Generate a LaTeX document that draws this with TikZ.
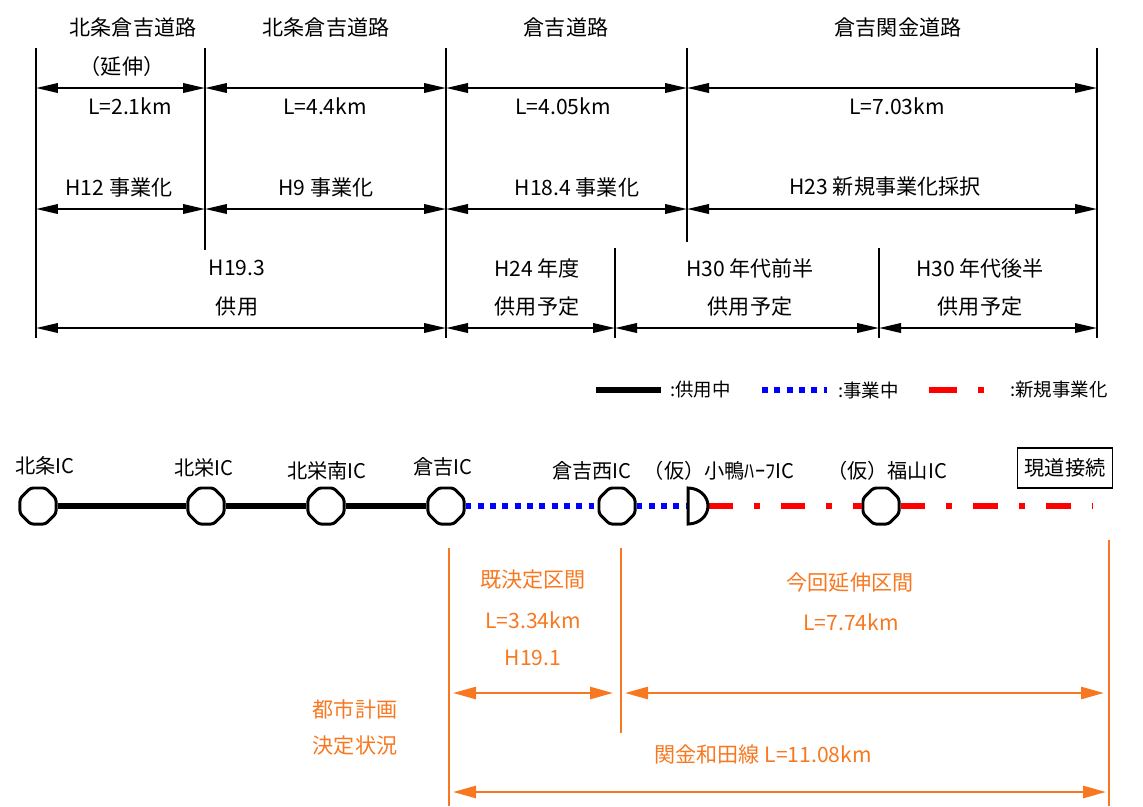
\documentclass[tikz,border=0pt]{standalone}
\usepackage{fontspec}
\newfontfamily\jp{Noto Sans CJK JP}
\usetikzlibrary{arrows.meta,shapes.geometric}
\definecolor{orn}{RGB}{247,120,32}
\tikzset{
 vline/.style={line width=0.75pt},
 dimarr/.style={line width=1.2pt,{Triangle[length=0.44cm,width=0.19cm]}-{Triangle[length=0.44cm,width=0.19cm]}},
 lbl/.style={font=\jp\fontsize{12}{14}\selectfont, inner sep=0pt},
 iclbl/.style={font=\jp\fontsize{11.5}{13}\selectfont, inner sep=0pt},
 leglbl/.style={font=\jp\fontsize{10.5}{12}\selectfont, inner sep=0pt, anchor=west},
 ic/.style={regular polygon, regular polygon sides=8, minimum size=0.78cm, draw, line width=1.7pt, fill=white, inner sep=0pt, rounded corners=1.5pt},
 inuse/.style={line width=3.4pt},
 building/.style={blue, line width=3.4pt, dash pattern=on 3.4pt off 3.6pt},
 newproj/.style={red, line width=3.4pt, dash pattern=on 14pt off 12pt on 3.4pt off 12pt},
 olbl/.style={lbl, text=orn},
 oline/.style={orn, line width=0.85pt},
 oarr/.style={orn, line width=1.5pt, {Triangle[length=0.46cm,width=0.24cm]}-{Triangle[length=0.46cm,width=0.24cm]}},
}
\begin{document}
\begin{tikzpicture}[x=0.02cm,y=-0.02cm]
\useasboundingbox (0,0) rectangle (1143,806);

% ---------- top table ----------
\coordinate (v1t) at (36,48);   \coordinate (v1b) at (36,338);
\coordinate (v2t) at (205,48);  \coordinate (v2b) at (205,250);
\coordinate (v3t) at (446,48);  \coordinate (v3b) at (446,338);
\coordinate (v4t) at (687,48);  \coordinate (v4b) at (687,242);
\coordinate (v5t) at (1097,48); \coordinate (v5b) at (1097,338);
\coordinate (v6t) at (615,248); \coordinate (v6b) at (615,338);
\coordinate (v7t) at (879,248); \coordinate (v7b) at (879,338);
\foreach \v in {1,...,7} \draw[vline] (v\v t) -- (v\v b);

\coordinate (r1) at (0,88);
\coordinate (r2) at (0,209);
\coordinate (r3) at (0,328);

\draw[dimarr] (v1t |- r1) -- (v2t |- r1);
\draw[dimarr] (v2t |- r1) -- (v3t |- r1);
\draw[dimarr] (v3t |- r1) -- (v4t |- r1);
\draw[dimarr] (v4t |- r1) -- (v5t |- r1);

\draw[dimarr] (v1t |- r2) -- (v2t |- r2);
\draw[dimarr] (v2t |- r2) -- (v3t |- r2);
\draw[dimarr] (v3t |- r2) -- (v4t |- r2);
\draw[dimarr] (v4t |- r2) -- (v5t |- r2);

\draw[dimarr] (v1b |- r3) -- (v3b |- r3);
\draw[dimarr] (v3b |- r3) -- (v6b |- r3);
\draw[dimarr] (v6b |- r3) -- (v7b |- r3);
\draw[dimarr] (v7b |- r3) -- (v5b |- r3);

\node[lbl] (h1) at (133,28) {北条倉吉道路};
\node[lbl] (h2) at (326,28) {北条倉吉道路};
\node[lbl] (h3) at (566,28) {倉吉道路};
\node[lbl] (h4) at (898,28) {倉吉関金道路};
\node[lbl] (ext) at (122,66) {（延伸）};

\node[lbl] (l1) at (130,106) {L=2.1km};
\node[lbl] (l2) at (325,106) {L=4.4km};
\node[lbl] (l3) at (563,106) {L=4.05km};
\node[lbl] (l4) at (897,106) {L=7.03km};

\node[lbl] (j1) at (119,188) {H12 事業化};
\node[lbl] (j2) at (326,188) {H9 事業化};
\node[lbl] (j3) at (577,188) {H18.4 事業化};
\node[lbl] (j4) at (885,187) {H23 新規事業化採択};

\node[lbl] (k1a) at (237,268) {H19.3};
\node[lbl] (k1b) at (237,307) {供用};
\node[lbl] (k2a) at (537,268) {H24 年度};
\node[lbl] (k2b) at (537,307) {供用予定};
\node[lbl] (k3a) at (750,268) {H30 年代前半};
\node[lbl] (k3b) at (750,307) {供用予定};
\node[lbl] (k4a) at (980,268) {H30 年代後半};
\node[lbl] (k4b) at (980,307) {供用予定};

% ---------- legend ----------
\coordinate (lg1a) at (596,390); \coordinate (lg1b) at (661,390);
\coordinate (lg2a) at (762,390); \coordinate (lg2b) at (827,390);
\coordinate (lg3a) at (929,390); \coordinate (lg3b) at (985,390);
\draw[inuse] (lg1a) -- (lg1b);
\draw[building] (lg2a) -- (lg2b);
\draw[newproj, dash pattern=on 16pt off 12pt on 3.4pt off 12pt] (lg3a) -- (lg3b);
\node[leglbl] (lt1) at (670,390) {:供用中};
\node[leglbl] (lt2) at (838,390) {:事業中};
\node[leglbl] (lt3) at (1010,390) {:新規事業化};

% ---------- IC line ----------
\node[ic] (ic1) at (38,506) {};
\node[ic] (ic2) at (206,506) {};
\node[ic] (ic3) at (326,506) {};
\node[ic] (ic4) at (446,506) {};
\node[ic] (ic5) at (617,506) {};
\node[ic] (ic6) at (881,506) {};
\coordinate (ogL) at (688,506);
\coordinate (ogR) at (708,506);
\coordinate (lineend) at (1092,506);

\draw[inuse] (ic1) -- (ic2);
\draw[inuse] (ic2) -- (ic3);
\draw[inuse] (ic3) -- (ic4);
\draw[building] (ic4) -- (ic5);
\draw[building] (ic5) -- (ogL);
\draw[newproj] (ogR) -- (ic6);
\draw[newproj] (ic6) -- (lineend);
\draw[line width=1.7pt, fill=white] (688,488) arc[start angle=90, end angle=-90, x radius=0.4cm, y radius=0.36cm] -- cycle;

\node[iclbl] (n1) at (45,466) {北条IC};
\node[iclbl] (n2) at (204,468) {北栄IC};
\node[iclbl] (n3) at (327,471) {北栄南IC};
\node[iclbl] (n4) at (443,467) {倉吉IC};
\node[iclbl] (n5) at (592,471) {倉吉西IC};
\node[iclbl] (n6) at (719,471) {（仮）小鴨ﾊｰﾌIC};
\node[iclbl] (n7) at (887,471) {（仮）福山IC};
\node[iclbl, draw, line width=0.8pt, minimum width=1.9cm, minimum height=0.8cm] (gen) at (1065,468) {現道接続};

% ---------- orange section ----------
\coordinate (o1t) at (449,548);  \coordinate (o1b) at (449,806);
\coordinate (o2t) at (621,548);  \coordinate (o2b) at (621,733);
\coordinate (o3t) at (1109,540); \coordinate (o3b) at (1109,806);
\draw[oline] (o1t) -- (o1b);
\draw[oline] (o2t) -- (o2b);
\draw[oline] (o3t) -- (o3b);
\coordinate (or1) at (0,693);
\coordinate (or2) at (0,792);
\draw[oarr, shorten <=0.08cm, shorten >=0.16cm] (o1t |- or1) -- (o2t |- or1);
\draw[oarr, shorten <=0.08cm, shorten >=0.1cm] (o2t |- or1) -- (o3t |- or1);
\draw[oarr, shorten <=0.08cm, shorten >=0.06cm] (o1t |- or2) -- (o3t |- or2);

\node[olbl] (p1) at (533,580) {既決定区間};
\node[olbl] (p2) at (533,620) {L=3.34km};
\node[olbl] (p3) at (533,658) {H19.1};
\node[olbl] (q1) at (850,582) {今回延伸区間};
\node[olbl] (q2) at (851,622) {L=7.74km};
\node[olbl] (s1) at (355,709) {都市計画};
\node[olbl] (s2) at (355,746) {決定状況};
\node[olbl] (s3) at (763,754) {関金和田線 L=11.08km};
\end{tikzpicture}
\end{document}
